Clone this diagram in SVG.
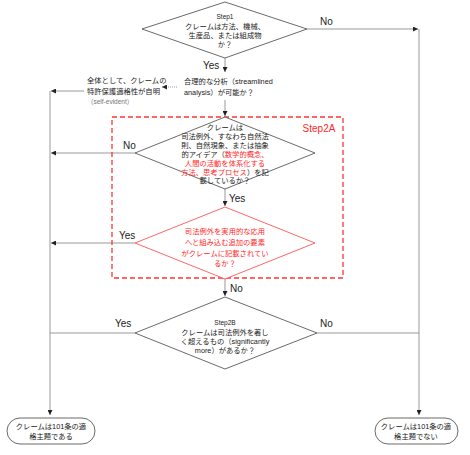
<svg xmlns="http://www.w3.org/2000/svg" width="470" height="455" viewBox="0 0 470 455">
<style>
text{font-family:"Liberation Sans","Noto Sans CJK JP",sans-serif;fill:#222;text-anchor:middle;dominant-baseline:central}
.t{font-size:7.3px}
.s{font-size:6.5px}
.lbl{font-size:10px;text-anchor:start}
.r{fill:#ff2a2a}
.g{fill:#777}
.dia{fill:#fff;stroke:#444;stroke-width:0.8}
.rdia{fill:#fff;stroke:#ff5555;stroke-width:0.9}
.ln{fill:none;stroke:#999;stroke-width:1}
.term{fill:#fff;stroke:#444;stroke-width:0.8}
</style>
<defs>
<marker id="ah" viewBox="0 0 6 6" refX="6" refY="3" markerWidth="5" markerHeight="5" orient="auto" markerUnits="userSpaceOnUse">
<path d="M0,0 L6,3 L0,6 z" fill="#222"/>
</marker>
</defs>
<rect width="470" height="455" fill="#fff"/>
<g id="connectors">
<line class="ln" x1="225" y1="58" x2="225" y2="72" marker-end="url(#ah)"/>
<line class="ln" x1="225" y1="100" x2="225" y2="116" marker-end="url(#ah)"/>
<line class="ln" x1="177" y1="87" x2="162" y2="87" stroke-dasharray="1,1" marker-end="url(#ah)"/>
<line class="ln" x1="84" y1="91" x2="51" y2="91" marker-end="url(#ah)"/>
<line class="ln" x1="50" y1="91" x2="50" y2="415" marker-end="url(#ah)"/>
<line class="ln" x1="307" y1="29" x2="418" y2="29" marker-end="url(#ah)"/>
<line class="ln" x1="419" y1="29" x2="419" y2="415" marker-end="url(#ah)"/>
<line class="ln" x1="135" y1="153" x2="51" y2="153" marker-end="url(#ah)"/>
<line class="ln" x1="225" y1="189" x2="225" y2="206" marker-end="url(#ah)"/>
<line class="ln" x1="135" y1="243" x2="51" y2="243" marker-end="url(#ah)"/>
<line class="ln" x1="225" y1="279" x2="225" y2="296" marker-end="url(#ah)"/>
<line class="ln" x1="135" y1="333" x2="50" y2="333"/>
<line class="ln" x1="317" y1="333" x2="419" y2="333"/>
<text class="lbl" x="203" y="65">Yes</text>
<text class="lbl" x="320" y="21">No</text>
<text class="lbl" x="123" y="145">No</text>
<text class="lbl" x="229" y="198">Yes</text>
<text class="lbl" x="119" y="235">Yes</text>
<text class="lbl" x="230" y="288">No</text>
<text class="lbl" x="115" y="323">Yes</text>
<text class="lbl" x="320" y="323">No</text>
</g>
<g id="step2a-box">
<rect x="112" y="117" width="231" height="161" fill="none" stroke="#ff3333" stroke-width="1.3" stroke-dasharray="5,3"/>
<text x="319" y="128" style="font-size:10px" class="r">Step2A</text>
</g>
<g id="step1">
<polygon class="dia" points="225,2 307,29 225,58 142,29"/>
<text class="s" x="225" y="16">Step1</text>
<text class="t" x="225" y="26">クレームは方法、機械、</text>
<text class="t" x="225" y="35">生産品、または組成物</text>
<text class="t" x="225" y="44">か？</text>
</g>
<g id="streamlined">
<text class="t" x="184" y="81" style="text-anchor:start">合理的な分析（streamlined</text>
<text class="t" x="184" y="92" style="text-anchor:start">analysis）が可能か？</text>
</g>
<g id="self-evident">
<text class="t" x="87" y="80" style="text-anchor:start">全体として、クレームの</text>
<text class="t" x="87" y="91" style="text-anchor:start">特許保護適格性が自明</text>
<text class="s g" x="87" y="101" style="text-anchor:start">（self-evident）</text>
</g>
<g id="step2a-1">
<polygon class="dia" points="225,117 315,153 225,189 135,153"/>
<text class="t" x="225" y="127">クレームは</text>
<text class="t" x="225" y="136">司法例外、すなわち自然法</text>
<text class="t" x="225" y="145">則、自然現象、または抽象</text>
<text class="t" x="225" y="154">的アイデア（<tspan class="r">数学的概念、</tspan></text>
<text class="t r" x="225" y="163">人間の活動を体系化する</text>
<text class="t" x="225" y="172"><tspan class="r">方法、思考プロセス</tspan>）を記</text>
<text class="t" x="225" y="180">載しているか？</text>
</g>
<g id="step2a-2">
<polygon class="rdia" points="225,207 315,243 225,279 135,243"/>
<text class="t r" x="225" y="231">司法例外を実用的な応用</text>
<text class="t r" x="225" y="242">へと組み込む追加の要素</text>
<text class="t r" x="225" y="253">がクレームに記載されてい</text>
<text class="t r" x="225" y="263">るか？</text>
</g>
<g id="step2b">
<polygon class="dia" points="225,297 317,333 225,369 135,333"/>
<text class="s" x="225" y="322">Step2B</text>
<text class="t" x="225" y="332">クレームは司法例外を著し</text>
<text class="t" x="225" y="341">く超えるもの（significantly</text>
<text class="t" x="225" y="350">more）があるか？</text>
</g>
<g id="eligible">
<rect class="term" x="7" y="418" width="88" height="26" rx="13" ry="13"/>
<text class="t" x="51" y="426">クレームは101条の適</text>
<text class="t" x="51" y="436">格主題である</text>
</g>
<g id="not-eligible">
<rect class="term" x="375" y="418" width="83" height="26" rx="13" ry="13"/>
<text class="t" x="416" y="426">クレームは101条の適</text>
<text class="t" x="416" y="436">格主題でない</text>
</g>
</svg>
